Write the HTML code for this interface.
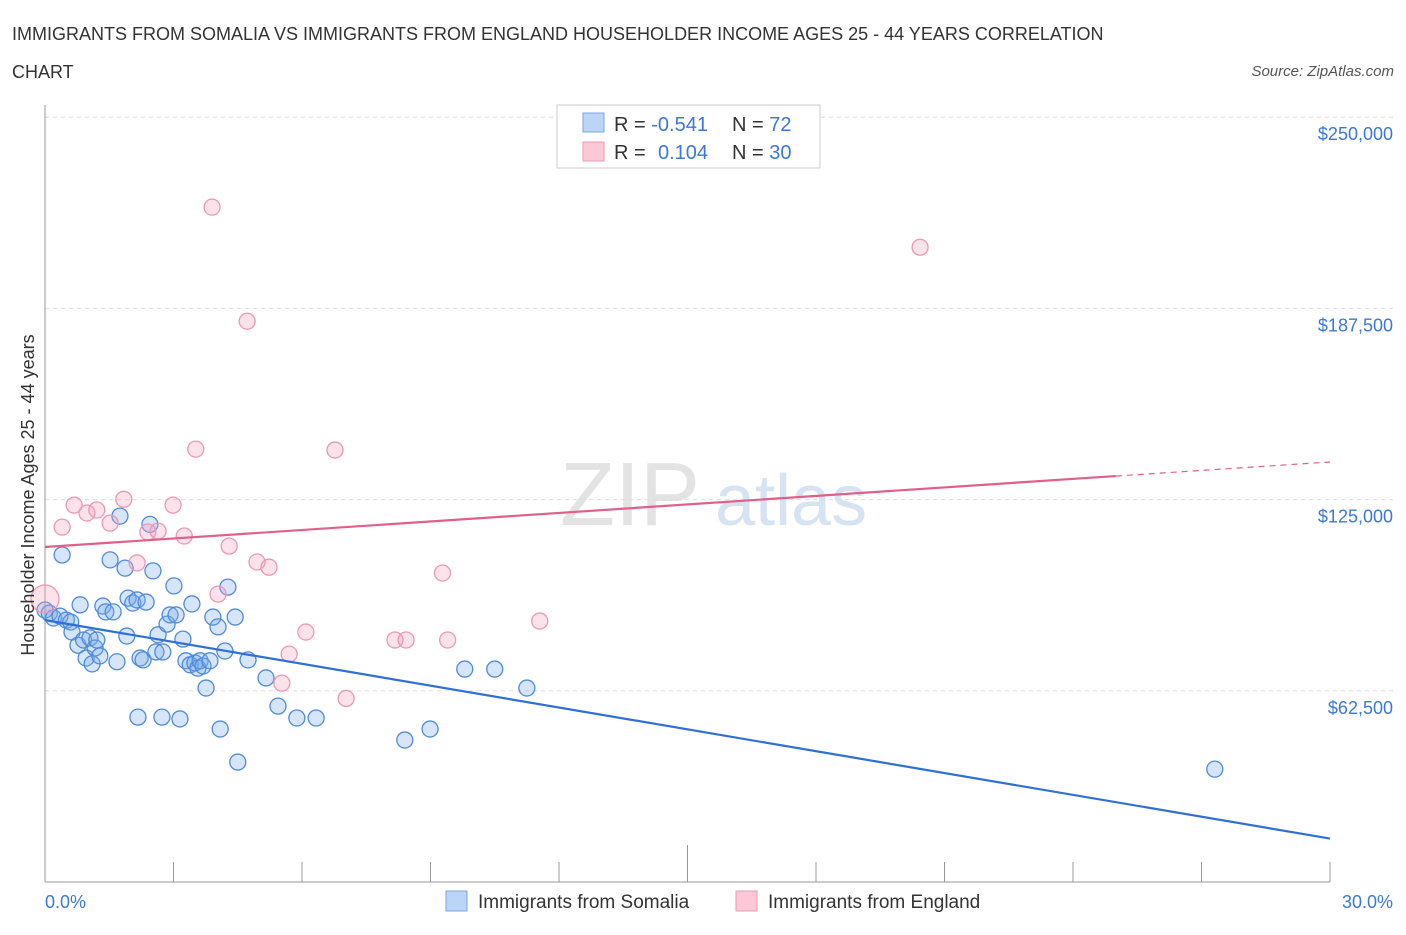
<!DOCTYPE html>
<html><head><meta charset="utf-8"><style>
body{margin:0;background:#fff;font-family:"Liberation Sans",sans-serif}
svg text{font-family:"Liberation Sans",sans-serif}
</style></head><body>
<svg id="c" width="1406" height="930" xmlns="http://www.w3.org/2000/svg">
<text x="12" y="40" font-size="18" fill="#333">IMMIGRANTS FROM SOMALIA VS IMMIGRANTS FROM ENGLAND HOUSEHOLDER INCOME AGES 25 - 44 YEARS CORRELATION</text>
<text x="12" y="78" font-size="18" fill="#333">CHART</text>
<text x="1394" y="76" font-size="15" fill="#555" font-style="italic" text-anchor="end">Source: ZipAtlas.com</text>
<text x="700" y="525" font-size="90" fill="#e3e3e3" text-anchor="end" font-family="Liberation Serif">ZIP</text>
<text x="715" y="525" font-size="72" fill="#d6e3f3">atlas</text>
<g id="grid"></g><g id="pts"></g><g id="lines"></g>
<text transform="translate(34,495) rotate(-90)" font-size="18" fill="#333" text-anchor="middle">Householder Income Ages 25 - 44 years</text>
<text x="45" y="908" font-size="18" fill="#3b78d8">0.0%</text>
<text x="1393" y="908" font-size="18" fill="#3b78d8" text-anchor="end">30.0%</text>
<g>
<rect x="557" y="105" width="263" height="63" fill="#fff" stroke="#ccc"/>
<rect x="583" y="113" width="21" height="19" fill="#bcd4f6" stroke="#7aa6e6"/>
<rect x="583" y="142" width="21" height="19" fill="#fbc8d8" stroke="#ee9ab5"/>
<text x="614" y="131" font-size="20" fill="#333">R = <tspan fill="#3b78d8">-0.541</tspan><tspan x="732">N = </tspan><tspan fill="#3b78d8">72</tspan></text>
<text x="614" y="159" font-size="20" fill="#333">R = <tspan x="658" fill="#3b78d8">0.104</tspan><tspan x="732">N = </tspan><tspan fill="#3b78d8">30</tspan></text>
</g>
<g>
<rect x="446" y="891" width="21" height="20" fill="#bcd4f6" stroke="#7aa6e6"/>
<text x="478" y="908" font-size="19" fill="#333">Immigrants from Somalia</text>
<rect x="736" y="891" width="21" height="20" fill="#fbc8d8" stroke="#ee9ab5"/>
<text x="768" y="908" font-size="19" fill="#333">Immigrants from England</text>
</g>
</svg>
<script>
const yTicks=[62500,125000,187500,250000];
const yTickLabels=["$62,500","$125,000","$187,500","$250,000"];
const somaliaX=[0,0.1,0.2,0.4,0.35,0.5,0.6,0.63,0.77,0.82,0.9,0.96,1.05,1.1,1.17,1.21,1.28,1.35,1.42,1.52,1.59,1.68,1.75,1.87,1.91,1.94,2.05,2.15,2.22,2.29,2.36,2.45,2.52,2.59,2.64,2.75,2.85,2.92,3.01,3.06,3.22,3.29,3.39,3.43,3.5,3.57,3.62,3.69,3.76,3.85,3.92,4.04,4.09,4.2,4.27,4.44,4.5,4.74,5.16,5.44,5.88,6.33,2.17,2.73,3.15,8.4,8.99,9.8,10.5,11.25,27.31];
const somaliaY=[88900,87900,86300,106900,86900,85600,85000,81700,77400,90600,79100,73200,79800,71300,76500,79100,73900,90200,88300,105300,88300,72000,119600,102600,80400,92800,91200,92200,73200,72600,91500,116900,101700,75200,80800,75200,84300,87300,96800,87300,79400,72300,71000,90900,71600,69900,72300,70600,63400,72300,86600,83400,50000,75500,96400,86600,39200,72600,66700,57500,53600,53600,53900,53900,53300,46400,50000,69600,69600,63400,36900];
const englandX=[0,0.4,0.68,0.98,1.21,1.52,1.84,2.15,2.4,2.64,2.99,3.25,3.52,3.9,4.04,4.3,4.72,4.95,5.23,5.7,5.53,6.09,6.77,7.03,8.17,8.43,9.4,9.28,11.55,20.43];
const englandY=[92500,116000,123200,120600,121600,117300,125100,104300,114400,114700,123200,113100,141500,220600,94100,109800,183300,104600,102900,74500,65000,81700,141200,60000,79100,79100,79100,101000,85300,207500];
const X=v=>45+v/30*1285, Y=v=>882-v/62500*191.2;
const NS='http://www.w3.org/2000/svg';
function mk(t,a,p){const e=document.createElementNS(NS,t);for(const k in a)e.setAttribute(k,a[k]);p.appendChild(e);return e;}
const g=document.getElementById('grid');
yTicks.forEach((v,i)=>{const l=mk('line',{x1:45,x2:1395,y1:Y(v),y2:Y(v),stroke:'#ddd','stroke-dasharray':'4,4'},g);

const t=mk('text',{x:1393,y:Y(v)+23,'font-size':18,fill:'#3b78d8','text-anchor':'end'},g);t.textContent=yTickLabels[i];
});
const ax=mk('line',{x1:45,x2:1330,y1:882,y2:882,stroke:'#999'},g);
const ay=mk('line',{x1:45,x2:45,y1:105,y2:882,stroke:'#999'},g);
for(let i=0;i<=10;i++){const tk=mk('line',{x1:X(i*3),x2:X(i*3),y1:882,y2:i==5?845:862,stroke:'#999'},g);
}
const p=document.getElementById('pts');
somaliaX.forEach((x,i)=>{const c=mk('circle',{cx:X(x),cy:Y(somaliaY[i]),r:8,fill:'rgba(120,170,235,0.3)',stroke:'#4f8bdc','stroke-width':1.3},p);
});
englandX.forEach((x,i)=>{const c=mk('circle',{cx:X(x),cy:Y(englandY[i]),r:i==0?14:8,fill:'rgba(245,160,190,0.3)',stroke:'#ec98b4','stroke-width':1.3},p);
});
const L=document.getElementById('lines');
let e=mk('line',{x1:X(0),y1:Y(85600),x2:X(30),y2:Y(14200),stroke:'#2f6fd6','stroke-width':2.2},L);

e=mk('line',{x1:X(0),y1:Y(109500),x2:X(25),y2:Y(132700),stroke:'#e0608a','stroke-width':2.2},L);

e=mk('line',{x1:X(25),y1:Y(132700),x2:X(30),y2:Y(137300),stroke:'#e0608a','stroke-width':1.2,'stroke-dasharray':'6,5'},L);

</script>
</body></html>
